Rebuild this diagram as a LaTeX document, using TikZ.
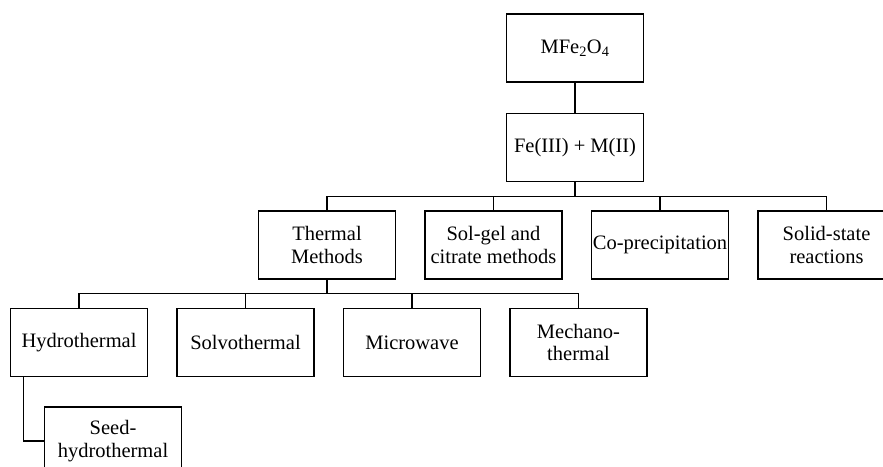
\documentclass[tikz,border=0pt]{standalone}
\usepackage{fontspec}
\setmainfont{Liberation Serif}
\usetikzlibrary{positioning}

\begin{document}
\begin{tikzpicture}[
  x=1pt, y=1pt,
  box/.style={draw, line width=1.5pt, minimum height=68pt, minimum width=137pt, inner sep=0pt, align=center, font=\fontsize{20.5}{22.5}\selectfont},
  link/.style={line width=1.4pt},
  stem/.style={line width=2.4pt},
  node distance=28pt
]
  \useasboundingbox (0,0) rectangle (883,-466);
  \clip (0,0) rectangle (883,-466);

  \node[box] (mfe) at (575,-48) {MFe\textsubscript{2}O\textsubscript{4}};
  \node[box, below=30pt of mfe] (ions) {Fe(III) + M(II)};

  % synthesis routes
  \node[box, below=of ions, xshift=-248pt] (therm) {Thermal\\Methods};
  \node[box, right=of therm] (solgel) {Sol-gel and\\citrate methods};
  \node[box, right=of solgel] (coprec) {Co-precipitation};
  \node[box, right=of coprec] (solid) {Solid-state\\reactions};

  % thermal variants
  \node[box, below=of therm, xshift=-248pt] (hydro) {Hydrothermal};
  \node[box, right=of hydro] (solvo) {Solvothermal};
  \node[box, right=of solvo] (micro) {Microwave};
  \node[box, right=of micro] (mechano) {Mechano-\\thermal};
  \node[box, below=29pt of hydro, xshift=34pt] (seed) {Seed-\\hydrothermal};

  \draw[link] (mfe) -- (ions);

  \draw[stem] (ions.south) -- ++(0,-14) coordinate (busA);
  \draw[link] (therm.north) |- (busA) -| (solid.north);
  \foreach \n in {solgel, coprec}
    \draw[link] (\n.north) -- (\n.north |- busA);

  \draw[stem] (therm.south) -- ++(0,-14) coordinate (busB);
  \draw[link] (hydro.north) |- (busB) -| (mechano.north);
  \foreach \n in {solvo, micro}
    \draw[link] (\n.north) -- (\n.north |- busB);

  \draw[link] ([xshift=14pt]hydro.south west) |- (seed.west);
\end{tikzpicture}
\end{document}
